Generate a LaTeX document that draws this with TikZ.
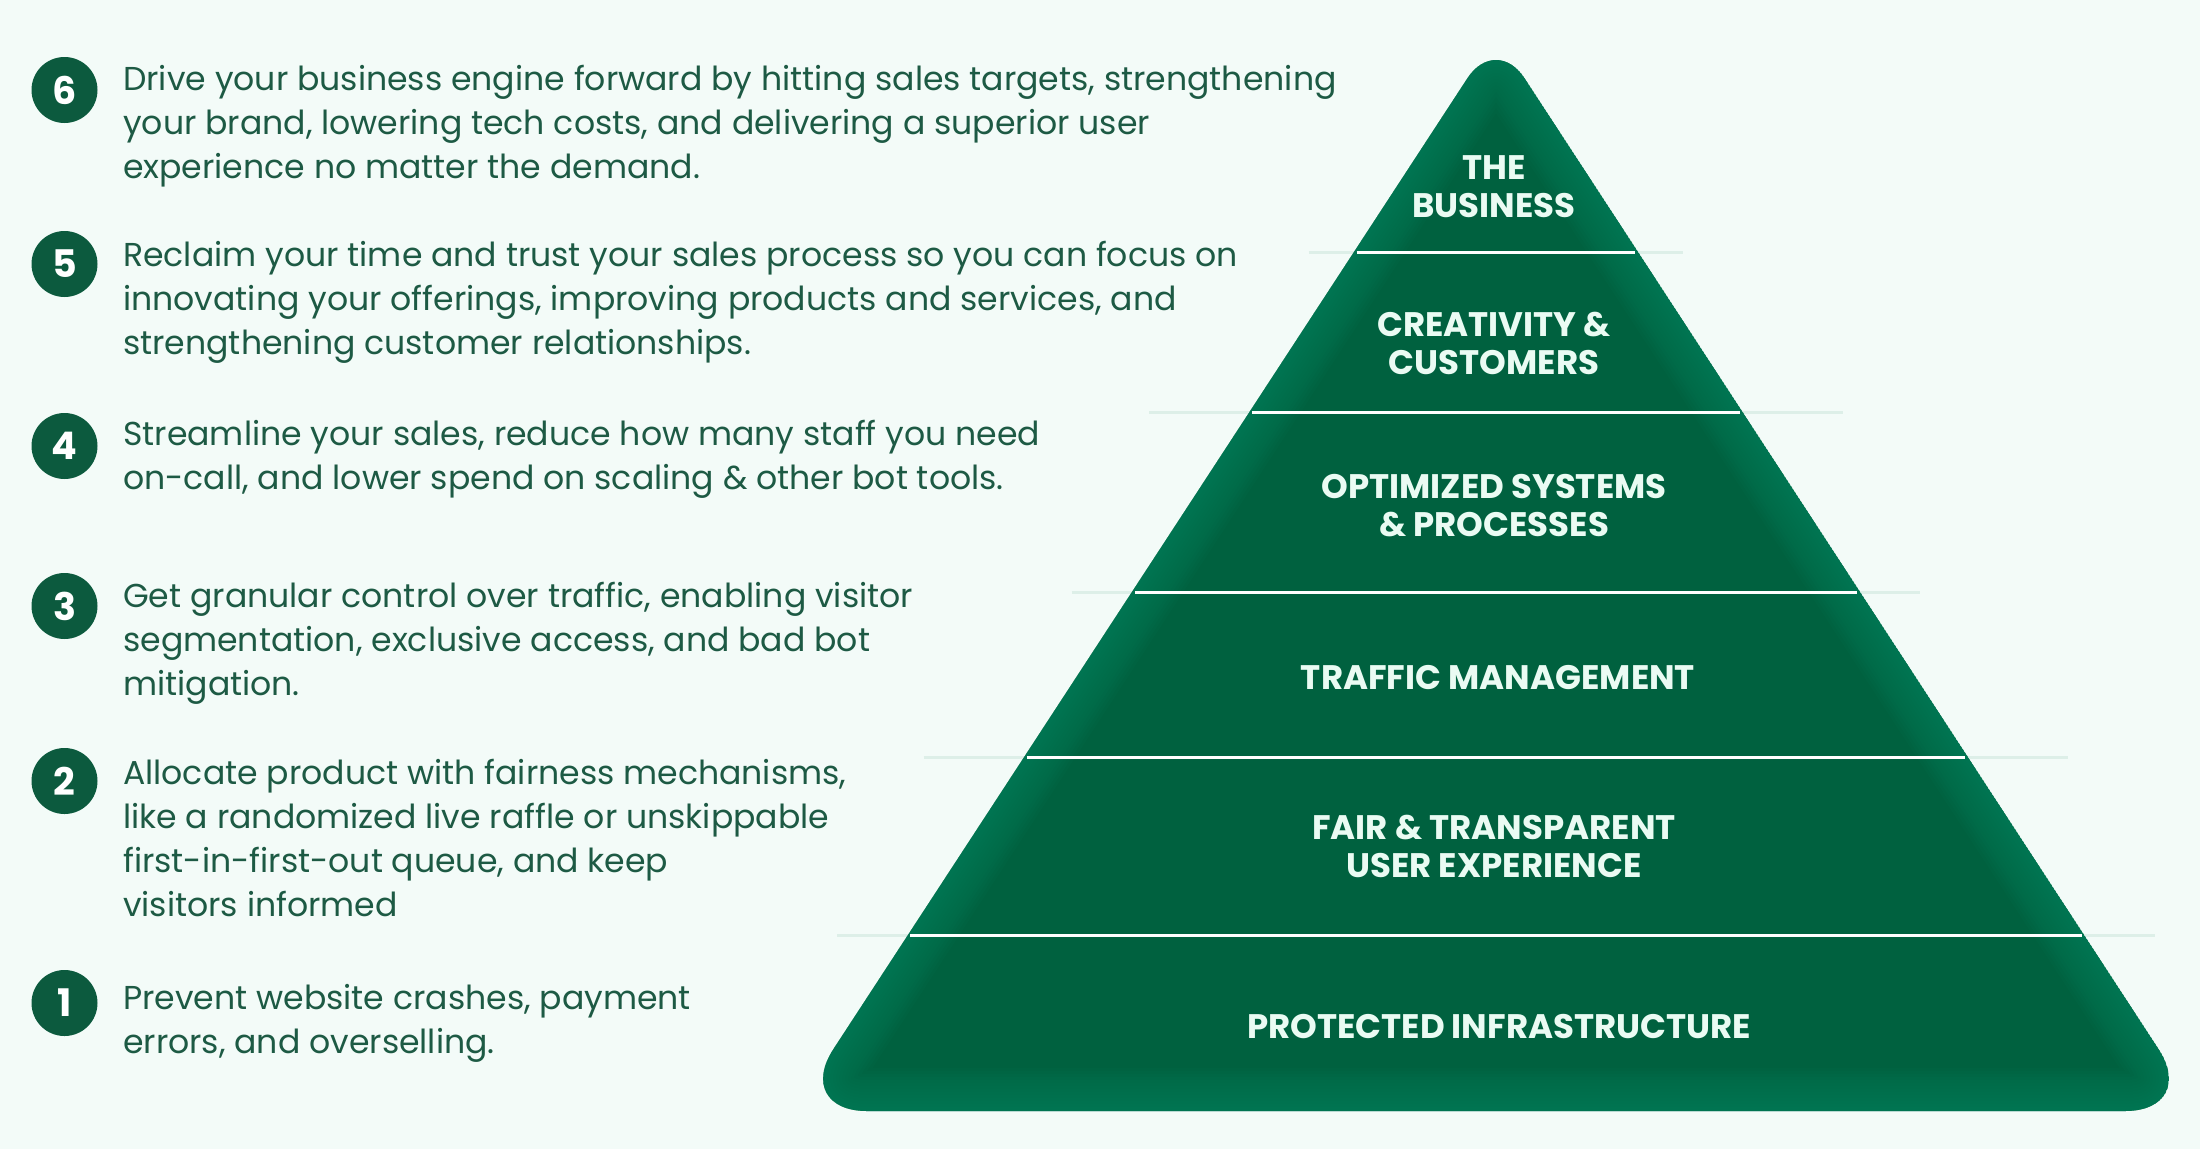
\documentclass[tikz,border=0pt]{standalone}
\usepackage{fontspec}
\setmainfont{Poppins}
\definecolor{bg}{HTML}{F3FBF8}
\definecolor{txt}{HTML}{1D5A44}
\definecolor{badge}{HTML}{0C5A3E}
\definecolor{pdark}{HTML}{00613F}
\definecolor{plight}{HTML}{0E8C67}
\definecolor{lbl}{HTML}{EAFBF3}
\definecolor{faint}{HTML}{DDEFE8}
\tikzset{
  numbadge/.style={circle, fill=badge, minimum size=66pt, inner sep=0pt, text=white, font=\fontsize{38}{38}\selectfont\bfseries},
  bodytext/.style={anchor=base west, align=left, inner sep=0pt, text=txt, font=\fontsize{33.1}{44.2}\selectfont},
  tierlabel/.style={align=center, inner sep=0pt, text=lbl, font=\fontsize{34}{38}\selectfont\bfseries}
}
\newcommand\pyrpath{(1496,1111) [rounded corners=74pt] -- (2199,1111) [rounded corners=52pt] -- (1496,34.5) [rounded corners=74pt] -- (793,1111) -- cycle}
\begin{document}
\begin{tikzpicture}[x=1pt,y=-1pt]
\useasboundingbox (0,0) rectangle (2200,1149);
\fill[bg] (0,0) rectangle (2200,1149);
% faint extensions of separators
\foreach \yy/\ee in {252.5/45, 412.5/100, 592/60, 757.6/100, 935.8/70} {
  \pgfmathsetmacro\hw{0.653*(\yy-34.5)}
  \draw[faint, line width=3pt] ({1496-\hw-\ee},\yy) -- ({1496+\hw+\ee},\yy);
}
% pyramid with soft lighter rim
\begin{scope}
  \clip \pyrpath;
  \fill[pdark] \pyrpath;
  \foreach \w in {86,80,...,8} {
    \draw[plight, line width=\w pt, opacity=0.06] \pyrpath;
  }
\end{scope}
\foreach \yy in {252.5, 412.5, 592, 757.6, 935.8} {
  \pgfmathsetmacro\hw{0.653*(\yy-34.5)-3}
  \draw[white, line width=3pt] ({1496-\hw},\yy) -- ({1496+\hw},\yy);
}
% tier labels
\node[tierlabel] (t6) at (1494,187) {THE\\BUSINESS};
\node[tierlabel] (t5) at (1494,343) {CREATIVITY \&\\CUSTOMERS};
\node[tierlabel] (t4) at (1494,506) {OPTIMIZED SYSTEMS\\\& PROCESSES};
\node[tierlabel] (t3) at (1498,678) {TRAFFIC MANAGEMENT};
\node[tierlabel] (t2) at (1494,846) {FAIR \& TRANSPARENT\\USER EXPERIENCE};
\node[tierlabel] (t1) at (1499,1026) {PROTECTED INFRASTRUCTURE};
% badges
\node[numbadge] (b6) at (64.5,90) {6};
\node[numbadge] (b5) at (64.5,264) {5};
\node[numbadge] (b4) at (64.5,446) {4};
\node[numbadge] (b3) at (64.5,606) {3};
\node[numbadge] (b2) at (64.5,781) {2};
\node[numbadge] (b1) at (64.5,1003) {1};
% texts (anchor = baseline of the last line)
\node[bodytext] (d6) at (123,178.4) {Drive your business engine forward by hitting sales targets, strengthening\\your brand, lowering tech costs, and delivering a superior user\\experience no matter the demand.};
\node[bodytext] (d5) at (123,354.4) {Reclaim your time and trust your sales process so you can focus on\\innovating your offerings, improving products and services, and\\strengthening customer relationships.};
\node[bodytext] (d4) at (123,489.2) {Streamline your sales, reduce how many staff you need\\on-call, and lower spend on scaling \& other bot tools.};
\node[bodytext] (d3) at (123,695.4) {Get granular control over traffic, enabling visitor\\segmentation, exclusive access, and bad bot\\mitigation.};
\node[bodytext] (d2) at (123,916.6) {Allocate product with fairness mechanisms,\\like a randomized live raffle or unskippable\\first-in-first-out queue, and keep\\visitors informed};
\node[bodytext] (d1) at (123,1053.2) {Prevent website crashes, payment\\errors, and overselling.};
\end{tikzpicture}
\end{document}
